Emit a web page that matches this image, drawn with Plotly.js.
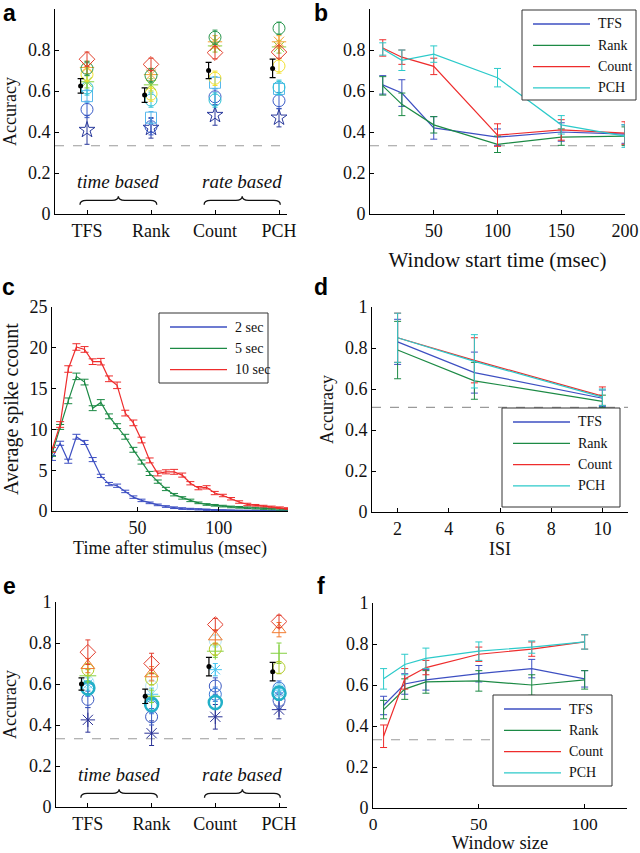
<!DOCTYPE html>
<html>
<head>
<meta charset="utf-8">
<script src="https://cdn.plot.ly/plotly-3.0.1.min.js"></script>
<style>
html, body { margin: 0; padding: 0; background: #fff; }
#chart { width: 640px; height: 853px; }
</style>
</head>
<body>
<div id="chart"></div>
<script>
// ---- panels a / e : per-condition accuracies ----
var catNames = ['TFS', 'Rank', 'Count', 'PCH'];
var catPos = [1, 2, 3, 4];

var aStar = [0.41, 0.42, 0.483, 0.47];
var aStarErr = [0.07, 0.05, 0.05, 0.045];
var aBlue = [0.51, 0.426, 0.572, 0.553];
var aBlueErr = [0.04, 0.04, 0.04, 0.04];
var aSquare = [0.575, 0.47, 0.64, 0.61];
var aSquareErr = [0.03, 0.03, 0.03, 0.03];
var aCyan = [0.615, 0.556, 0.556, 0.618];
var aCyanErr = [0.035, 0.035, 0.035, 0.035];
var aYellow = [0.68, 0.585, 0.662, 0.722];
var aYellowErr = [0.035, 0.035, 0.035, 0.035];
var aGreenAst = [0.645, 0.63, 0.82, 0.815];
var aGreenAstErr = [0.03, 0.03, 0.03, 0.03];
var aOrange = [0.715, 0.68, 0.84, 0.84];
var aOrangeErr = [0.03, 0.03, 0.03, 0.03];
var aDkGreen = [0.71, 0.675, 0.862, 0.906];
var aDkGreenErr = [0.035, 0.035, 0.035, 0.03];
var aRed = [0.755, 0.73, 0.787, 0.79];
var aRedErr = [0.035, 0.03, 0.03, 0.03];
var aMean = [0.625, 0.58, 0.70, 0.71];
var aMeanErr = [0.035, 0.035, 0.04, 0.045];

var eStar = [0.425, 0.36, 0.44, 0.475];
var eStarErr = [0.06, 0.06, 0.06, 0.045];
var eBlue = [0.525, 0.44, 0.59, 0.52];
var eBlueErr = [0.04, 0.04, 0.04, 0.04];
var eBlue2 = [0.575, 0.49, 0.55, 0.58];
var eBlue2Err = [0.035, 0.035, 0.035, 0.035];
var eCyanBold = [0.58, 0.50, 0.51, 0.555];
var eCyanBoldErr = [0.035, 0.035, 0.035, 0.035];
var eLtAst = [0.60, 0.55, 0.67, 0.57];
var eLtAstErr = [0.03, 0.03, 0.03, 0.03];
var ePale = [0.61, 0.59, 0.81, 0.57];
var ePaleErr = [0.03, 0.03, 0.03, 0.03];
var eGreenPlus = [0.64, 0.54, 0.76, 0.75];
var eGreenPlusErr = [0.03, 0.03, 0.03, 0.05];
var eYG = [0.67, 0.625, 0.77, 0.68];
var eYGErr = [0.03, 0.03, 0.03, 0.03];
var eOrange = [0.69, 0.65, 0.83, 0.865];
var eOrangeErr = [0.035, 0.035, 0.035, 0.035];
var eRed = [0.755, 0.70, 0.89, 0.905];
var eRedErr = [0.06, 0.05, 0.03, 0.03];
var eMean = [0.60, 0.54, 0.685, 0.66];
var eMeanErr = [0.03, 0.035, 0.045, 0.045];

var meanShift = 0.1;
var chance = 0.333;
var chanceIsi = 0.51;

// ---- panel b : window start time ----
var methodNames = ['TFS', 'Rank', 'Count', 'PCH'];
var bStart = [10, 25, 50, 100, 150, 200];
var bTFS = [0.63, 0.59, 0.42, 0.375, 0.40, 0.39];
var bTFSErr = [0.045, 0.065, 0.055, 0.04, 0.045, 0.045];
var bRank = [0.625, 0.535, 0.435, 0.34, 0.375, 0.38];
var bRankErr = [0.045, 0.055, 0.04, 0.04, 0.04, 0.045];
var bCount = [0.81, 0.765, 0.72, 0.385, 0.41, 0.395];
var bCountErr = [0.04, 0.035, 0.04, 0.055, 0.05, 0.055];
var bPCH = [0.805, 0.75, 0.78, 0.665, 0.435, 0.38];
var bPCHErr = [0.03, 0.05, 0.04, 0.045, 0.045, 0.055];

// ---- panel c : spike counts over time ----
var isiNames = ['2 sec', '5 sec', '10 sec'];
var cTime = [-2.5, 2.5, 7.5, 12.5, 17.5, 22.5, 27.5, 32.5, 37.5, 42.5, 47.5, 52.5, 57.5, 62.5, 67.5,
  72.5, 77.5, 82.5, 87.5, 92.5, 97.5, 102.5, 107.5, 112.5, 117.5, 122.5, 127.5, 132.5, 137.5, 142.5];
var c2 = [6.5, 8.3, 6.1, 9.1, 8.4, 6.3, 4.3, 3.3, 3.1, 2.4, 1.7, 1.3, 1.0, 0.75, 0.55,
  0.4, 0.3, 0.25, 0.2, 0.15, 0.12, 0.1, 0.08, 0.06, 0.05, 0.05, 0.04, 0.03, 0.03, 0.02];
var c2Err = [0.3, 0.25, 0.25, 0.3, 0.25, 0.25, 0.2, 0.2, 0.2, 0.15, 0.15, 0.15, 0.1, 0.1, 0.1,
  0.1, 0.1, 0.08, 0.08, 0.08, 0.05, 0.05, 0.05, 0.05, 0.05, 0.05, 0.05, 0.05, 0.05, 0.05];
var c5 = [7.0, 10.3, 13.5, 16.5, 15.8, 12.6, 13.3, 11.6, 10.4, 9.1, 7.5, 6.0, 4.6, 3.6, 2.7,
  2.0, 1.6, 1.3, 1.0, 0.8, 0.7, 0.6, 0.5, 0.45, 0.4, 0.35, 0.3, 0.25, 0.2, 0.2];
var c5Err = [0.3, 0.3, 0.35, 0.4, 0.35, 0.3, 0.35, 0.3, 0.3, 0.3, 0.3, 0.25, 0.25, 0.2, 0.2,
  0.15, 0.15, 0.15, 0.1, 0.1, 0.1, 0.1, 0.1, 0.1, 0.1, 0.1, 0.1, 0.1, 0.1, 0.1];
var c10 = [7.5, 10.6, 17.4, 20.1, 19.8, 18.3, 18.3, 16.2, 15.4, 12.0, 10.8, 8.7, 6.2, 4.6, 4.8,
  4.8, 4.4, 3.4, 2.8, 2.9, 2.2, 1.9, 1.5, 1.1, 0.8, 0.7, 0.6, 0.5, 0.4, 0.3];
var c10Err = [0.3, 0.35, 0.4, 0.4, 0.35, 0.35, 0.4, 0.35, 0.4, 0.35, 0.35, 0.35, 0.3, 0.3, 0.25,
  0.3, 0.25, 0.2, 0.2, 0.2, 0.2, 0.15, 0.15, 0.15, 0.15, 0.1, 0.1, 0.1, 0.1, 0.1];

// ---- panel d : ISI ----
var dIsi = [2, 5, 10];
var dTFS = [0.83, 0.68, 0.555];
var dTFSErr = [0.11, 0.10, 0.04];
var dRank = [0.79, 0.64, 0.54];
var dRankErr = [0.14, 0.09, 0.03];
var dCount = [0.85, 0.74, 0.565];
var dCountErr = [0.12, 0.11, 0.045];
var dPCH = [0.85, 0.735, 0.56];
var dPCHErr = [0.12, 0.13, 0.04];

// ---- panel f : window size ----
var fSize = [5, 15, 25, 50, 75, 100];
var fTFS = [0.50, 0.605, 0.625, 0.655, 0.68, 0.63];
var fTFSErr = [0.045, 0.05, 0.05, 0.04, 0.045, 0.04];
var fRank = [0.48, 0.58, 0.615, 0.62, 0.60, 0.625];
var fRankErr = [0.045, 0.05, 0.055, 0.05, 0.05, 0.045];
var fCount = [0.35, 0.63, 0.685, 0.75, 0.775, 0.81];
var fCountErr = [0.055, 0.05, 0.035, 0.035, 0.035, 0.035];
var fPCH = [0.63, 0.70, 0.73, 0.765, 0.785, 0.81];
var fPCHErr = [0.05, 0.05, 0.05, 0.045, 0.03, 0.035];

var W = 640, H = 853;
var SERIF = 'Liberation Serif, Times New Roman, serif';
var colTFS = '#3d4fc2', colRank = '#1c8a45', colCount = '#ee2c2c', colPCH = '#2ccaca';
var methodColors = [colTFS, colRank, colCount, colPCH];

function xd(p0, p1) { return [p0 / W, p1 / W]; }
function yd(top, bottom) { return [1 - bottom / H, 1 - top / H]; }

function axis(extra) {
	var base = {
		showline: true, linecolor: '#000', linewidth: 1,
		ticks: 'inside', ticklen: 4, tickcolor: '#000',
		showgrid: false, zeroline: false, fixedrange: true,
		tickfont: {family: SERIF, size: 18, color: '#111'},
		title: {font: {family: SERIF, size: 18, color: '#111'}}
	};
	for (var k in extra) {
		if (k === 'title') { base.title.text = extra.title; }
		else if (k === 'standoff') { base.title.standoff = extra.standoff; }
		else if (k === 'titleSize') { base.title.font.size = extra.titleSize; }
		else if (k === 'tickSize') { base.tickfont.size = extra.tickSize; }
		else { base[k] = extra[k]; }
	}
	return base;
}

function pts(vals, errs, sym, color, size, ax, lw) {
	return {
		type: 'scatter', mode: 'markers', showlegend: false,
		x: catPos, y: vals, xaxis: 'x' + ax, yaxis: 'y' + ax,
		marker: {symbol: sym, size: size, color: color, line: {color: color, width: lw || 1}},
		error_y: {type: 'data', array: errs, visible: true, color: color, thickness: 1, width: 2.5}
	};
}

function meanPts(vals, errs, ax) {
	return {
		type: 'scatter', mode: 'markers', showlegend: false,
		x: catPos.map(function(v) { return v - meanShift; }), y: vals,
		xaxis: 'x' + ax, yaxis: 'y' + ax,
		marker: {symbol: 'circle', size: 5, color: '#000'},
		error_y: {type: 'data', array: errs, visible: true, color: '#000', thickness: 1.2, width: 3}
	};
}

function line(x, y, errs, name, color, ax, cap) {
	return {
		type: 'scatter', mode: 'lines', name: name, showlegend: false,
		x: x, y: y, xaxis: 'x' + ax, yaxis: 'y' + ax,
		line: {color: color, width: 1.2},
		error_y: {type: 'data', array: errs, visible: true, color: color, thickness: 1, width: cap || 3.5}
	};
}

var ax1 = '', ax2 = '2', ax3 = '3', ax4 = '4', ax5 = '5', ax6 = '6';

var data = [
	// a
	pts(aStar, aStarErr, 'star-open', '#2a3a9c', 12, ax1),
	pts(aBlue, aBlueErr, 'circle-open', '#3a5cc8', 12, ax1),
	pts(aSquare, aSquareErr, 'square-open', '#58b8ec', 11, ax1),
	pts(aCyan, aCyanErr, 'circle-open', '#2ec2d6', 12, ax1),
	pts(aGreenAst, aGreenAstErr, 'asterisk-open', '#86d040', 12, ax1),
	pts(aYellow, aYellowErr, 'circle-open', '#f2e030', 12, ax1),
	pts(aOrange, aOrangeErr, 'asterisk-open', '#f5a232', 12, ax1),
	pts(aDkGreen, aDkGreenErr, 'circle-open', '#2a9850', 12, ax1),
	pts(aRed, aRedErr, 'diamond-open', '#e2402c', 12, ax1),
	meanPts(aMean, aMeanErr, ax1),
	// e
	pts(eStar, eStarErr, 'asterisk-open', '#2a3296', 12, ax5),
	pts(eBlue, eBlueErr, 'circle-open', '#3a58c0', 12, ax5),
	pts(eBlue2, eBlue2Err, 'circle-open', '#3a78d8', 12, ax5),
	pts(eLtAst, eLtAstErr, 'asterisk-open', '#4cc6f0', 11, ax5),
	pts(ePale, ePaleErr, 'circle-open', '#b4e6f4', 12, ax5),
	pts(eCyanBold, eCyanBoldErr, 'circle-open', '#22b0c8', 13, ax5, 2.5),
	pts(eGreenPlus, eGreenPlusErr, 'cross-thin-open', '#84d040', 12, ax5),
	pts(eYG, eYGErr, 'circle-open', '#b4cc2c', 12, ax5),
	pts(eOrange, eOrangeErr, 'triangle-up-open', '#f27a30', 12, ax5),
	pts(eRed, eRedErr, 'diamond-open', '#e23c2c', 12, ax5),
	meanPts(eMean, eMeanErr, ax5),
	// b
	line(bStart, bTFS, bTFSErr, 'TFS', colTFS, ax2),
	line(bStart, bRank, bRankErr, 'Rank', colRank, ax2),
	line(bStart, bCount, bCountErr, 'Count', colCount, ax2),
	line(bStart, bPCH, bPCHErr, 'PCH', colPCH, ax2),
	// c
	line(cTime, c2, c2Err, '2 sec', colTFS, ax3, 4),
	line(cTime, c5, c5Err, '5 sec', colRank, ax3, 4),
	line(cTime, c10, c10Err, '10 sec', colCount, ax3, 4),
	// d
	line(dIsi, dTFS, dTFSErr, 'TFS', colTFS, ax4),
	line(dIsi, dRank, dRankErr, 'Rank', colRank, ax4),
	line(dIsi, dCount, dCountErr, 'Count', colCount, ax4),
	line(dIsi, dPCH, dPCHErr, 'PCH', colPCH, ax4),
	// f
	line(fSize, fTFS, fTFSErr, 'TFS', colTFS, ax6),
	line(fSize, fRank, fRankErr, 'Rank', colRank, ax6),
	line(fSize, fCount, fCountErr, 'Count', colCount, ax6),
	line(fSize, fPCH, fPCHErr, 'PCH', colPCH, ax6)
];

function dash(ax, y, x0, x1, ref) {
	return {
		type: 'line', layer: 'below', xref: ref || ('x' + ax + ' domain'), yref: 'y' + ax,
		x0: x0, x1: x1, y0: y, y1: y,
		line: {color: '#9a9a9a', width: 1.2, dash: 'dash'}
	};
}

// curly braces under the group labels
var braceSpans = [[0.89, 2.09], [2.83, 4.02]];
var braceLevels = {end: 0.045, bar: 0.066, tip: 0.086};
function brace(x0, x1, ax) {
	var m = (x0 + x1) / 2, dx = 0.1;
	var e = braceLevels.end, b = braceLevels.bar, t = braceLevels.tip;
	var p = 'M' + x0 + ',' + e + ' Q' + x0 + ',' + b + ' ' + (x0 + dx) + ',' + b +
		' L' + (m - dx) + ',' + b + ' Q' + m + ',' + b + ' ' + m + ',' + t +
		' Q' + m + ',' + b + ' ' + (m + dx) + ',' + b +
		' L' + (x1 - dx) + ',' + b + ' Q' + x1 + ',' + b + ' ' + x1 + ',' + e;
	return {type: 'path', xref: 'x' + ax, yref: 'y' + ax, path: p, line: {color: '#111', width: 1.3}};
}

var shapes = [
	dash(ax1, chance, 0, 1), dash(ax5, chance, 0, 1),
	dash(ax2, chance, 0, 1), dash(ax4, chanceIsi, 0, 1),
	dash(ax6, chance, 0, 100, 'x6'),
	brace(braceSpans[0][0], braceSpans[0][1], ax1), brace(braceSpans[1][0], braceSpans[1][1], ax1),
	brace(braceSpans[0][0], braceSpans[0][1], ax5), brace(braceSpans[1][0], braceSpans[1][1], ax5)
];

function groupText(txt, ax, x) {
	return {
		text: '<i>' + txt + '</i>', xref: 'x' + ax, yref: 'y' + ax, x: x, y: 0.158,
		showarrow: false, font: {family: SERIF, size: 19, color: '#111'}
	};
}
function letter(t, px, py) {
	return {
		text: '<b>' + t + '</b>', xref: 'paper', yref: 'paper', x: px / W, y: 1 - py / H,
		xanchor: 'center', yanchor: 'middle', showarrow: false,
		font: {family: 'Liberation Sans, Arial, sans-serif', size: 23, color: '#000'}
	};
}

var annotations = [
	letter('a', 9, 13), letter('b', 321, 13),
	letter('c', 8, 287), letter('d', 321, 287),
	letter('e', 9, 586), letter('f', 321, 586),
	groupText('time based', '', 1.49), groupText('rate based', '', 3.42),
	groupText('time based', '5', 1.49), groupText('rate based', '5', 3.42)
];

// MATLAB-style boxed legends (long line samples), placed in paper pixels
function boxLegend(left, top, right, bottom, names, colors) {
	var px = function(v) { return v / W; };
	var py = function(v) { return 1 - v / H; };
	shapes.push({type: 'rect', xref: 'paper', yref: 'paper', layer: 'above',
		x0: px(left), x1: px(right), y0: py(top), y1: py(bottom),
		fillcolor: '#fff', line: {color: '#333', width: 1}});
	names.forEach(function(nm, i) {
		var yy = top + 14 + i * 21.3;
		shapes.push({type: 'line', xref: 'paper', yref: 'paper', layer: 'above',
			x0: px(left + 11), x1: px(left + 68), y0: py(yy), y1: py(yy),
			line: {color: colors[i], width: 1.3}});
		annotations.push({text: nm, xref: 'paper', yref: 'paper', x: px(left + 74), y: py(yy),
			xanchor: 'left', yanchor: 'middle', showarrow: false,
			font: {family: SERIF, size: 14, color: '#111'}});
	});
}
boxLegend(522, 10, 636, 100, methodNames, methodColors);
boxLegend(159, 313, 268, 383, isiNames, [colTFS, colRank, colCount]);
boxLegend(502, 408, 620, 507, methodNames, methodColors);
boxLegend(493, 695, 612, 786, methodNames, methodColors);

var catAxis = {range: [0.5, 4.125], tickvals: catPos, ticktext: catNames};
var accAxis = {range: [0, 1], tickvals: [0, 0.2, 0.4, 0.6, 0.8, 1]};

var layout = {
	width: W, height: H,
	margin: {l: 0, r: 0, t: 0, b: 0},
	paper_bgcolor: '#fff', plot_bgcolor: 'rgba(0,0,0,0)',
	font: {family: SERIF, size: 18, color: '#111'},
	showlegend: false,
	xaxis: axis(Object.assign({domain: xd(55, 287), anchor: 'y'}, catAxis)),
	yaxis: axis(Object.assign({domain: yd(9, 214), anchor: 'x', title: 'Accuracy'}, accAxis)),
	xaxis2: axis({domain: xd(370, 625), anchor: 'y2', range: [0, 200], tickvals: [50, 100, 150, 200],
		title: 'Window start time (msec)', titleSize: 21, standoff: 12}),
	yaxis2: axis(Object.assign({domain: yd(9, 214), anchor: 'x2'}, accAxis)),
	xaxis3: axis({domain: xd(52, 288), anchor: 'y3', range: [-2.5, 142.5], tickvals: [50, 100],
		title: 'Time after stimulus (msec)', standoff: 4}),
	yaxis3: axis({domain: yd(307, 511), anchor: 'x3', range: [0, 25], tickvals: [0, 5, 10, 15, 20, 25],
		title: 'Average spike ccount', titleSize: 20}),
	xaxis4: axis({domain: xd(372, 628), anchor: 'y4', range: [1, 11], tickvals: [2, 4, 6, 8, 10],
		title: 'ISI', standoff: 4}),
	yaxis4: axis(Object.assign({domain: yd(307, 512), anchor: 'x4', title: 'Accuracy', standoff: 6}, accAxis)),
	xaxis5: axis(Object.assign({domain: xd(56, 287), anchor: 'y5'}, catAxis)),
	yaxis5: axis(Object.assign({domain: yd(602, 807), anchor: 'x5', title: 'Accuracy'}, accAxis)),
	xaxis6: axis({domain: xd(373, 627), anchor: 'y6', range: [0, 120], tickvals: [0, 50, 100],
		title: 'Window size', titleSize: 18.5, standoff: 2, tickSize: 17.5}),
	yaxis6: axis(Object.assign({domain: yd(603, 808), anchor: 'x6'}, accAxis)),
	shapes: shapes,
	annotations: annotations
};

Plotly.newPlot('chart', data, layout, {staticPlot: true, displayModeBar: false});
</script>
</body>
</html>
